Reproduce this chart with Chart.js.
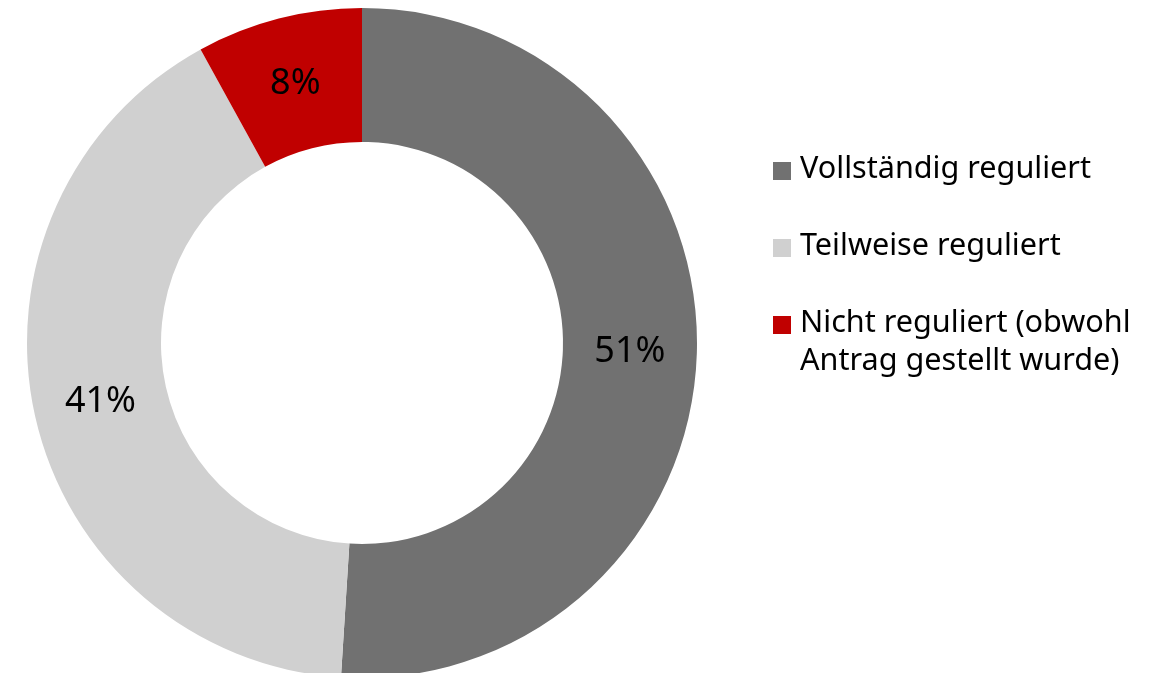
<!DOCTYPE html>
<html>
<head>
<meta charset="utf-8">
<script src="https://cdn.jsdelivr.net/npm/chart.js@4/dist/chart.umd.min.js"></script>
<style>
  html, body { margin: 0; padding: 0; background: #fff; }
  #wrap { position: relative; width: 1155px; height: 673px; overflow: hidden; }
  #chartBox { position: absolute; left: 0; top: 0; width: 1155px; height: 700px; }
  #legend { position: absolute; left: 773px; top: 147px; font-family: "Noto Sans", sans-serif; font-size: 30.6px; color: #000; }
  .item { position: relative; padding-left: 27px; line-height: 38px; margin-bottom: 39px; white-space: nowrap; }
  .box { position: absolute; left: 0; top: 15px; width: 18px; height: 18px; }
</style>
</head>
<body>
<div id="wrap">
  <div id="chartBox"><canvas id="donut"></canvas></div>
  <div id="legend"></div>
</div>
<script>
const categories = ['Vollständig reguliert', 'Teilweise reguliert', 'Nicht reguliert (obwohl Antrag gestellt wurde)'];
const legendLines = [['Vollständig reguliert'], ['Teilweise reguliert'], ['Nicht reguliert (obwohl', 'Antrag gestellt wurde)']];
const shares = [51, 41, 8];
const colors = ['#717171', '#D0D0D0', '#C00000'];

// — Prozent-Beschriftung in der Mitte jedes Segments —
const labelPlugin = {
  id: 'sliceLabels',
  afterDatasetsDraw(chart) {
    const ctx = chart.ctx;
    const meta = chart.getDatasetMeta(0);
    ctx.save();
    ctx.font = '36px "Noto Sans", sans-serif';
    ctx.fillStyle = '#000';
    ctx.textAlign = 'center';
    ctx.textBaseline = 'middle';
    meta.data.forEach((arc, i) => {
      const p = arc.tooltipPosition();
      ctx.fillText(shares[i] + '%', p.x, p.y);
    });
    ctx.restore();
  }
};

new Chart(document.getElementById('donut'), {
  type: 'doughnut',
  data: {
    labels: categories,
    datasets: [{
      data: shares,
      backgroundColor: colors,
      borderWidth: 0
    }]
  },
  options: {
    responsive: true,
    maintainAspectRatio: false,
    animation: false,
    cutout: '60%',
    layout: { padding: { left: 27, top: 8, right: 458, bottom: 22 } },
    plugins: {
      legend: { display: false },
      tooltip: { enabled: false }
    }
  },
  plugins: [labelPlugin]
});

// — Legende als HTML —
const legendEl = document.getElementById('legend');
legendLines.forEach((lines, i) => {
  const item = document.createElement('div');
  item.className = 'item';
  const box = document.createElement('span');
  box.className = 'box';
  box.style.background = colors[i];
  item.appendChild(box);
  lines.forEach(t => {
    const d = document.createElement('div');
    d.textContent = t;
    item.appendChild(d);
  });
  legendEl.appendChild(item);
});
</script>
</body>
</html>
